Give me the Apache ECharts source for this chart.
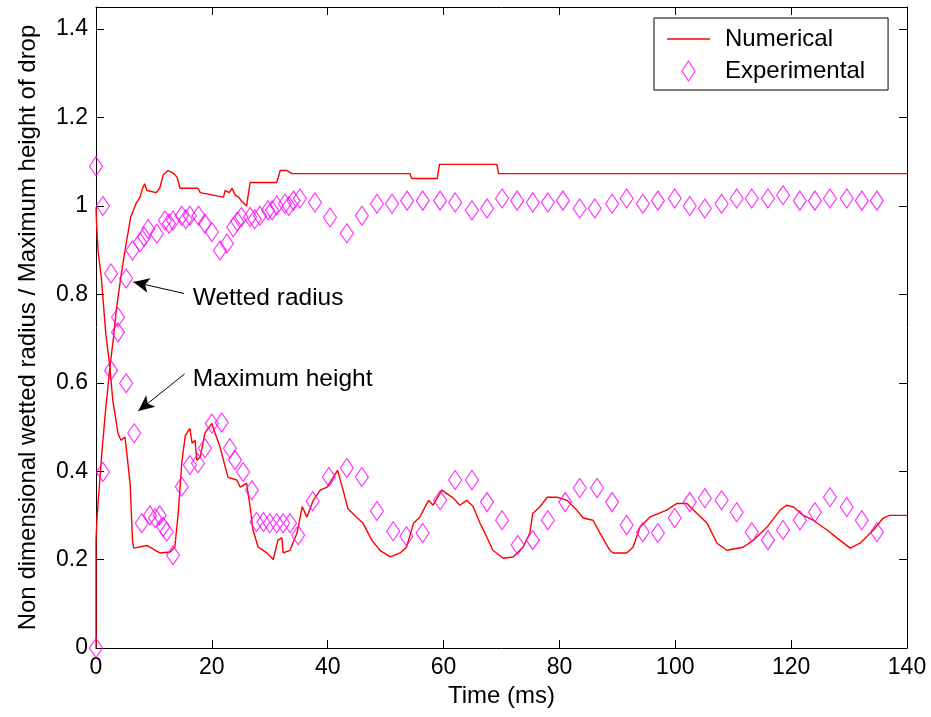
<!DOCTYPE html>
<html>
<head>
<meta charset="utf-8">
<script src="https://cdn.jsdelivr.net/npm/echarts@6/dist/echarts.min.js"></script>
<style>
html,body{margin:0;padding:0;background:#fff;}
#chart{width:931px;height:717px;}
</style>
</head>
<body>
<div id="chart"></div>
<script>
// ---- Data (time in ms, non-dimensional value) ----
const numRadius = [[0,0],[0,0.244],[0.2,0.30],[0.6,0.37],[1.0,0.44],[1.6,0.53],[2.4,0.635],[3.0,0.70],[3.5,0.764],[4.3,0.84],[5.2,0.915],[6.0,0.975],[6.9,1.005],[7.6,1.02],[8.1,1.042],[8.4,1.05],[8.8,1.035],[10.4,1.03],[11.0,1.04],[11.6,1.07],[12.4,1.08],[13.3,1.075],[14.0,1.065],[14.5,1.04],[17.6,1.04],[18.0,1.03],[20.0,1.025],[22.0,1.02],[22.3,1.035],[23.0,1.03],[23.5,1.04],[24.0,1.025],[24.6,1.02],[25.2,1.01],[26.0,1.0],[26.6,1.053],[31.2,1.053],[31.8,1.08],[33.0,1.08],[33.8,1.073],[54.2,1.073],[54.5,1.062],[58.9,1.062],[59.3,1.094],[69.2,1.094],[69.5,1.073],[140,1.073]];

const numHeight = [[0,0.997],[0.1,0.96],[0.35,0.9],[0.9,0.84],[1.7,0.71],[2.4,0.635],[2.9,0.56],[3.8,0.486],[4.3,0.47],[5.0,0.477],[5.2,0.455],[5.9,0.37],[6.3,0.244],[6.5,0.226],[8.8,0.232],[9.6,0.226],[11,0.215],[12.8,0.217],[13.6,0.228],[14.2,0.305],[14.8,0.418],[15.4,0.48],[16.2,0.497],[16.6,0.463],[17.1,0.47],[17.4,0.425],[18,0.432],[18.8,0.486],[20,0.508],[20.5,0.488],[21.4,0.455],[22.3,0.41],[22.8,0.386],[24.3,0.38],[24.9,0.364],[26,0.373],[26.6,0.32],[27.1,0.267],[28,0.228],[29.5,0.215],[30.6,0.2],[31.4,0.244],[32.1,0.249],[32.3,0.215],[33.5,0.221],[34.7,0.26],[35.6,0.32],[36.4,0.296],[37.5,0.334],[38.7,0.357],[39.9,0.364],[41.7,0.402],[42.5,0.365],[43.5,0.315],[44.8,0.298],[46.1,0.282],[47.6,0.244],[49,0.221],[50.8,0.206],[52.5,0.215],[53.6,0.228],[54.8,0.282],[55.9,0.296],[57.4,0.334],[58.2,0.323],[59.7,0.357],[61.7,0.339],[62.8,0.323],[64,0.334],[65.1,0.32],[66.3,0.282],[67.5,0.25],[68.5,0.221],[70.3,0.203],[72,0.206],[73.7,0.228],[74.9,0.26],[75.4,0.305],[76.6,0.319],[77.9,0.341],[79.6,0.341],[81.3,0.334],[83,0.312],[84.1,0.294],[85.8,0.289],[87,0.26],[88.7,0.221],[89.3,0.215],[91.6,0.215],[92.7,0.228],[93.9,0.273],[95.6,0.296],[98.5,0.312],[100.3,0.327],[102,0.327],[103.7,0.305],[105.5,0.282],[107.2,0.237],[108.9,0.221],[111.7,0.228],[113.5,0.244],[115.8,0.273],[118.1,0.312],[119.2,0.323],[120.4,0.319],[122.1,0.30],[123.8,0.289],[126.2,0.267],[128.4,0.244],[130.2,0.226],[131.9,0.237],[134.2,0.267],[135.9,0.294],[137,0.30],[140,0.30]];

const expRadius = [[0,0],[1.2,0.398],[2.6,0.628],[3.8,0.714],[5.2,0.836],[6.3,0.899],[7.6,0.918],[8.3,0.93],[9.0,0.948],[10.5,0.937],[11.9,0.967],[12.6,0.96],[13.3,0.967],[14.8,0.978],[15.5,0.97],[16.2,0.978],[17.7,0.978],[18.8,0.96],[20,0.941],[21.4,0.899],[22.6,0.915],[23.7,0.952],[24.4,0.965],[25.1,0.975],[26.6,0.975],[27.4,0.97],[28.3,0.978],[29.7,0.99],[30.4,0.99],[31.2,1.001],[32.6,1.005],[33.3,1.0],[34.1,1.012],[35.2,1.017],[37.8,1.008],[40.4,0.974],[43.3,0.938],[45.9,0.978],[48.5,1.005],[51.1,1.005],[53.7,1.012],[56.4,1.012],[59.4,1.012],[62,1.008],[64.9,0.99],[67.5,0.994],[70.1,1.017],[72.7,1.012],[75.4,1.008],[78,1.008],[80.6,1.012],[83.5,0.994],[86.1,0.994],[89.1,1.005],[91.6,1.017],[94.4,1.005],[97,1.012],[99.9,1.017],[102.5,1.0],[105.1,0.994],[108,1.005],[110.6,1.017],[113.2,1.017],[116,1.017],[118.6,1.024],[121.5,1.012],[124.1,1.012],[126.7,1.017],[129.6,1.017],[132.2,1.012],[134.8,1.012]];

const expHeight = [[0,1.09],[1.2,1.0],[2.6,0.847],[3.8,0.748],[5.2,0.599],[6.6,0.486],[7.9,0.282],[9.3,0.30],[10.2,0.294],[11,0.30],[11.6,0.274],[12.2,0.263],[13.3,0.21],[14.8,0.365],[16.2,0.414],[17.6,0.418],[18.8,0.452],[20,0.508],[21.7,0.51],[23.1,0.452],[24,0.425],[25.4,0.398],[26.9,0.357],[27.7,0.285],[28.9,0.285],[30,0.282],[31.2,0.282],[32.3,0.282],[33.5,0.282],[34.9,0.255],[37.4,0.332],[40.2,0.387],[43.3,0.407],[45.9,0.387],[48.5,0.31],[51.3,0.264],[53.6,0.253],[56.4,0.26],[59.4,0.334],[62,0.38],[64.9,0.38],[67.5,0.33],[70.1,0.289],[72.8,0.233],[75.4,0.244],[78,0.289],[81,0.33],[83.5,0.362],[86.5,0.362],[89.1,0.33],[91.6,0.278],[94.4,0.262],[97,0.26],[99.9,0.294],[102.5,0.33],[105.1,0.339],[108,0.334],[110.6,0.307],[113.2,0.262],[116,0.244],[118.6,0.267],[121.5,0.289],[124.1,0.307],[126.7,0.341],[129.6,0.319],[132.2,0.289],[134.8,0.262]];

// annotations: [tail, head] in data coordinates, and label anchors
const annotationLabels = ['Wetted radius', 'Maximum height'];
const annotationTextAt = [[16.7, 0.791], [16.7, 0.608]];
const annotationArrows = [[[15.2, 0.802], [6.45, 0.828]], [[15.3, 0.62], [7.3, 0.536]]];

const xRange = [0, 140, 20];
const yRange = [0, 1.45, 0.2];

const FONT = 'Liberation Sans, Arial, sans-serif';
const FS_TICK = 23;
const FS = 24;
const FS_NOTE = 24.5;

const chart = echarts.init(document.getElementById('chart'), null, {renderer: 'canvas'});

const axisCommon = {
  axisLine: {show: true, onZero: false, lineStyle: {color: '#000', width: 1}},
  axisTick: {show: true, inside: true, length: 8, lineStyle: {color: '#000', width: 1}},
  splitLine: {show: false}
};

const option = {
  animation: false,
  backgroundColor: '#fff',
  grid: {left: 96, right: 24, top: 7, bottom: 69, containLabel: false},
  legend: {
    orient: 'vertical',
    left: 654, top: 18,
    padding: [9, 23, 7, 13],
    borderColor: '#000', borderWidth: 1,
    backgroundColor: '#fff',
    itemWidth: 43, itemHeight: 20, itemGap: 8,
    textStyle: {fontFamily: FONT, fontSize: FS, color: '#000', padding: [0, 0, 0, 10], lineHeight: 20},
    data: [
      {name: 'Numerical', icon: 'path://M0,0 H43 V1.4 H0 Z', itemStyle: {color: '#ff0000', borderWidth: 0}},
      {name: 'Experimental', icon: 'path://M6.5,0 L13,10 L6.5,20 L0,10 Z',
       itemStyle: {color: 'rgba(0,0,0,0)', borderColor: '#ff00ff', borderWidth: 1.2}}
    ]
  },
  xAxis: [
    Object.assign({
      type: 'value', min: xRange[0], max: xRange[1], interval: xRange[2], position: 'bottom',
      name: 'Time (ms)', nameLocation: 'middle', nameGap: 33,
      nameTextStyle: {fontFamily: FONT, fontSize: FS, color: '#000'},
      axisLabel: {fontFamily: FONT, fontSize: FS_TICK, color: '#000', margin: 8}
    }, axisCommon),
    Object.assign({
      type: 'value', min: xRange[0], max: xRange[1], interval: xRange[2], position: 'top',
      axisLabel: {show: false}
    }, axisCommon)
  ],
  yAxis: [
    Object.assign({
      type: 'value', min: yRange[0], max: yRange[1], interval: yRange[2], position: 'left',
      name: 'Non dimensional wetted radius / Maximum height of drop', nameLocation: 'middle', nameGap: 56,
      nameTextStyle: {fontFamily: FONT, fontSize: FS, color: '#000'},
      axisLabel: {fontFamily: FONT, fontSize: FS_TICK, color: '#000', margin: 8, showMaxLabel: false}
    }, axisCommon),
    Object.assign({
      type: 'value', min: yRange[0], max: yRange[1], interval: yRange[2], position: 'right',
      axisLabel: {show: false}
    }, axisCommon)
  ],
  series: [
    {
      name: 'Numerical', type: 'line', data: numRadius, showSymbol: false, symbol: 'none',
      lineStyle: {color: '#ff0000', width: 1.4}, itemStyle: {color: '#ff0000'}, z: 3
    },
    {
      name: 'Numerical', type: 'line', data: numHeight, showSymbol: false, symbol: 'none',
      lineStyle: {color: '#ff0000', width: 1.4}, itemStyle: {color: '#ff0000'}, z: 3
    },
    {
      name: 'Experimental', type: 'scatter', data: expRadius, symbol: 'diamond', symbolSize: [13, 19],
      itemStyle: {color: 'rgba(0,0,0,0)', borderColor: '#ff00ff', borderWidth: 1.2}, z: 4
    },
    {
      name: 'Experimental', type: 'scatter', data: expHeight, symbol: 'diamond', symbolSize: [13, 19],
      itemStyle: {color: 'rgba(0,0,0,0)', borderColor: '#ff00ff', borderWidth: 1.2}, z: 4
    },
    {
      name: 'annotations', type: 'line', data: [], silent: true, z: 5,
      markLine: {
        silent: true, symbol: ['none', 'arrow'], symbolSize: [11, 16],
        lineStyle: {color: '#000', width: 1, type: 'solid'},
        label: {show: false},
        data: annotationArrows.map(a => [{coord: a[0]}, {coord: a[1]}])
      },
      markPoint: {
        silent: true, symbol: 'rect', symbolSize: 0,
        label: {show: true, position: 'right', distance: 0, color: '#000', fontFamily: FONT, fontSize: FS_NOTE,
                formatter: p => p.name},
        data: annotationLabels.map((t, i) => ({name: t, coord: annotationTextAt[i]}))
      }
    }
  ]
};
chart.setOption(option);
</script>
</body>
</html>
